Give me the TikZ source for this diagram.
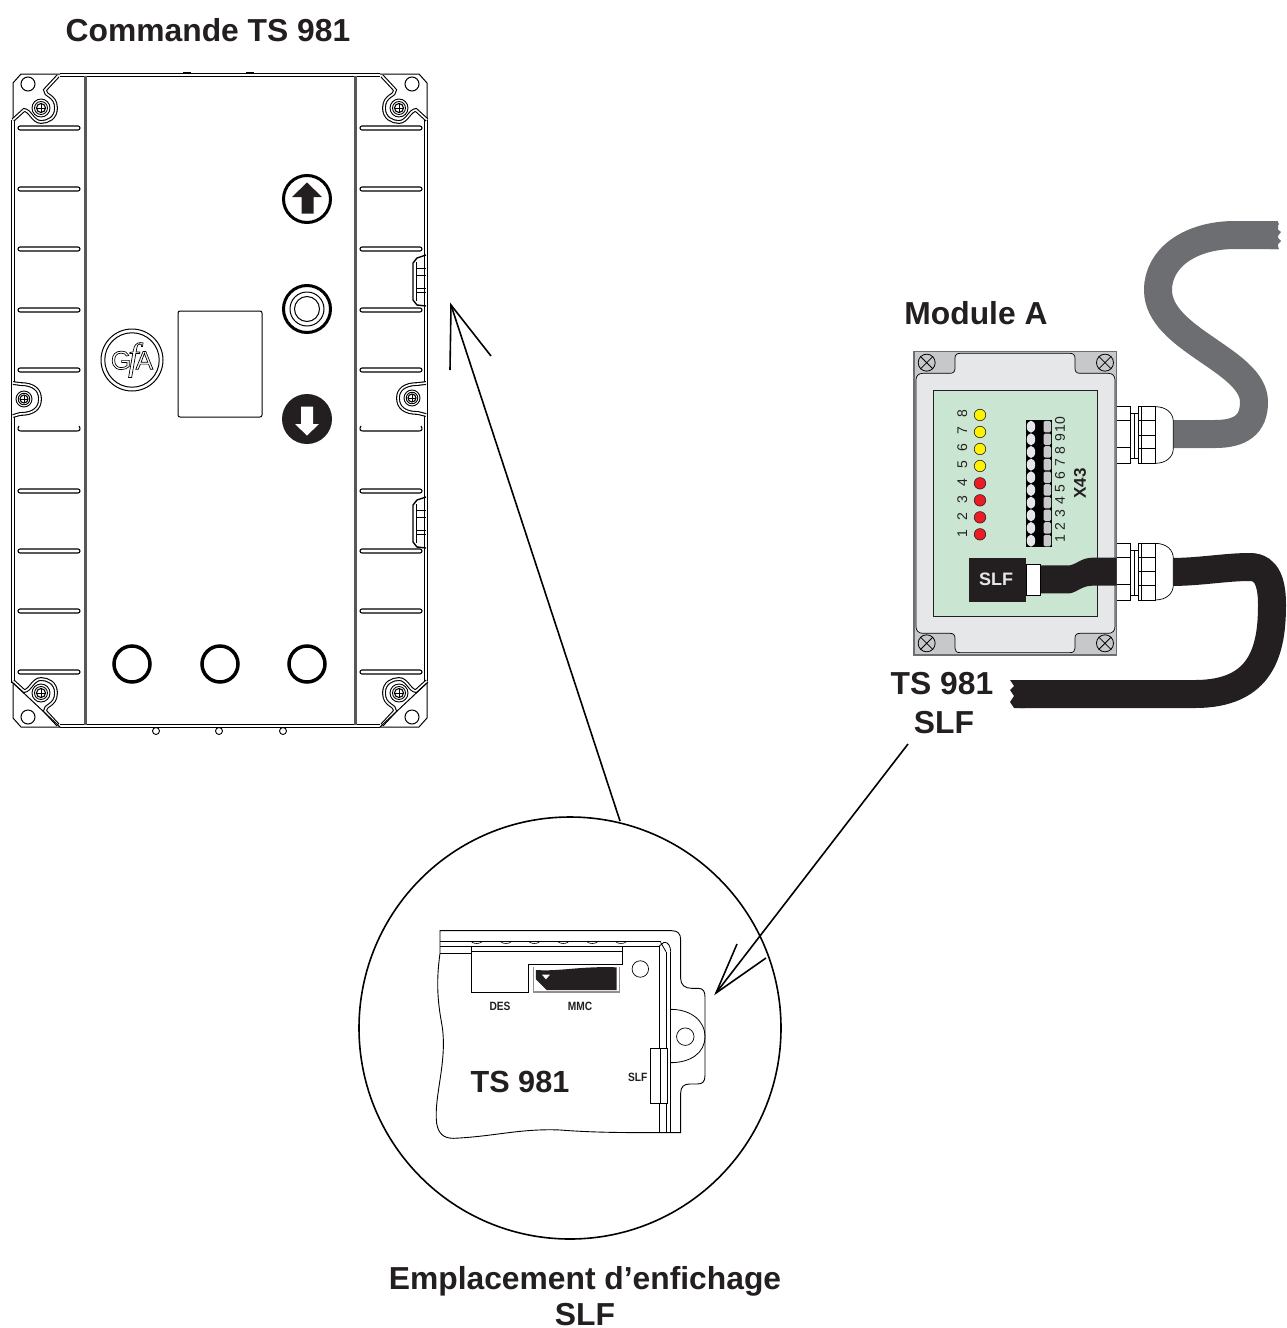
\documentclass[tikz,border=0pt]{standalone}
\usepackage{fontspec}
\usepackage{graphicx}
\usetikzlibrary{shapes.geometric}
\setmainfont{Liberation Sans}
\newfontfamily\logoserif{Liberation Serif}
\definecolor{lidgray}{HTML}{E6E7E9}
\definecolor{edgegray}{HTML}{C7C8CA}
\definecolor{pcbgreen}{HTML}{CBE5D3}
\definecolor{cablegray}{HTML}{6D6E71}
\definecolor{cableblack}{HTML}{231F20}
\definecolor{ledred}{HTML}{ED1C24}
\definecolor{ledyellow}{HTML}{FFF200}
\tikzset{
	title/.style={font=\bfseries\fontsize{31.8}{36}\selectfont,text=cableblack,inner sep=0pt},
	tiny label/.style={font=\bfseries\fontsize{12}{14}\selectfont,text=cableblack,inner sep=0pt},
	digit/.style={font=\fontsize{14}{15}\selectfont,text=cableblack,inner sep=0pt,rotate=90},
	shell/.style={draw=black,line width=1.1pt,double=white,double distance=1.6pt},
	rib/.style={draw=black,fill=white,line width=1.1pt,rounded corners=2pt},
	pointer/.style={draw=black,line width=1.6pt},
	cable/.style={line width=28pt},
}
% corner of the housing, seen top left
\newcommand{\housingscrew}[3]{
	\fill[white] (#1,#2) circle (#3);
	\draw[line width=0.9pt] (#1,#2) circle (#3) (#1,#2) circle (0.72*#3);
	\draw[line width=1.1pt] (#1,#2) circle (0.5*#3);
	\draw[line width=0.6pt] (#1-0.45*#3,#2) -- (#1+0.45*#3,#2) (#1,#2-0.45*#3) -- (#1,#2+0.45*#3);
}
\newcommand{\housingcorner}{
	\draw[line width=1pt] (60,74) -- (21,74) -- (13,83) -- (13,120);
	\draw[line width=1pt] (28,84) circle (7);
	\draw[shell] (58,76) -- (45,90) .. controls (44,96) and (56,95) .. (56,108) .. controls (56,118) and (48,122) .. (41,122) .. controls (33,122) and (30,110) .. (24,110) -- (13,120);
	\housingscrew{41}{108}{9}
}
% cable gland on the side of the box
\newcommand{\boxgland}[1]{
	\begin{scope}[yshift=#1]
		\draw[line width=0.7pt,fill=white] (795,230) .. controls (830,230) and (850,250) .. (850,275) -- (850,355) .. controls (850,380) and (830,400) .. (795,400) -- cycle;
		\draw[line width=0.7pt,fill=white] (680,230) rectangle (722,400);
		\draw[line width=0.7pt,fill=white] (722,250) rectangle (745,385);
		\draw[line width=0.7pt,fill=white] (745,230) rectangle (795,400);
		\draw[line width=0.7pt] (680,272) -- (722,272) (680,352) -- (722,352) (745,272) -- (795,272) (745,315) -- (795,315) (745,355) -- (795,355) (733,250) -- (733,385) (755,230) -- (755,400);
	\end{scope}
}
\begin{document}
\begin{tikzpicture}[x=1pt, y=-1pt]
	\useasboundingbox (0,0) rectangle (1286,1328);
	\fill[white] (0,0) rectangle (1286,1328);
	\node[title] (commande) at (208,30) {Commande TS 981};
	% housing
	\foreach \x in {156,219,283}{
		\draw[line width=0.9pt] (\x,731) circle (3.5);
	}
	\draw[shell] (60,75) -- (380,75);
	\draw[shell] (60,726) -- (380,726);
	\draw[shell] (13,120) -- (13,683);
	\draw[shell] (426,120) -- (426,683);
	\draw[color=cableblack!75, line width=3pt] (85,76) -- (85,725);
	\draw[color=cableblack!75, line width=3pt] (355,76) -- (355,725);
	\draw[line width=1.2pt] (183,73) -- (191,73) (246,73) -- (254,73);
	\housingcorner
	\begin{scope}[shift={(440,0)},xscale=-1]
		\housingcorner
	\end{scope}
	\begin{scope}[shift={(0,801)},yscale=-1]
		\housingcorner
		\draw[line width=1pt] (13,118) -- (60,74);
	\end{scope}
	\begin{scope}[shift={(440,801)},scale=-1]
		\housingcorner
		\draw[line width=1pt] (13,118) -- (60,74);
	\end{scope}
	\foreach \y in {128,189,249,310,370,491,551,611,672}{
		\draw[rib] (18,\y-2) rectangle (80,\y+2);
		\draw[rib] (360,\y-2) rectangle (422,\y+2);
	}
	\draw[line width=1.1pt] (19,426) .. controls (17,429) and (18,431) .. (21,431) -- (77,431) .. controls (80,431) and (81,429) .. (79,426);
	\draw[line width=1.1pt] (361,426) .. controls (359,429) and (360,431) .. (363,431) -- (419,431) .. controls (422,431) and (423,429) .. (421,426);
	% side screws and clips
	\draw[shell, fill=white] (13,383) -- (20,384) .. controls (34,384) and (40,390) .. (40,399) .. controls (40,408) and (34,414) .. (20,414) -- (13,416);
	\housingscrew{24}{399}{8}
	\draw[shell, fill=white] (426,383) -- (418,384) .. controls (404,384) and (398,390) .. (398,398) .. controls (398,407) and (404,413) .. (418,413) -- (426,415);
	\housingscrew{412}{398}{8}
	\foreach \dy in {0,242}{
		\begin{scope}[yshift=-\dy]
			\draw[line width=1.4pt] (426,255) -- (417,258) -- (413,263) -- (413,300) -- (417,305) -- (426,306);
			\draw[line width=1pt] (416,262) -- (416,301) (416,268) -- (426,268) (416,275) -- (426,275) (416,288) -- (426,288) (416,292) -- (426,292);
		\end{scope}
	}
	% front panel
	\node[draw, line width=1pt, rounded corners=2pt, minimum width=84pt, minimum height=106pt, inner sep=0pt] (display) at (220,364) {};
	\node[circle, draw, line width=1pt, minimum size=62pt, inner sep=0pt] (logo) at (132,360) {};
	\node[circle, draw, line width=1pt, minimum size=54pt, inner sep=0pt] (logoinner) at (132,360) {\special{pdf: code 1 Tr 0.7 w}\fontsize{26}{26}\selectfont G\kern-3pt{\logoserif\itshape\fontsize{38}{38}\selectfont f}\kern-3ptA\special{pdf: code 0 Tr}};
	\node[circle, draw, line width=3pt, minimum size=47pt, inner sep=0pt] (keyup) at (307,199) {};
	\fill[cableblack] (307,182.5) -- (322,197) -- (313.5,197) -- (313.5,213.5) -- (301.5,213.5) -- (301.5,197) -- (292,197) -- cycle;
	\node[circle, draw, line width=3pt, minimum size=47pt, inner sep=0pt] (keystop) at (307,309) {};
	\node[circle, draw, line width=1pt, minimum size=34pt, inner sep=0pt] (keystopa) at (307,309) {};
	\node[circle, draw, line width=1pt, minimum size=25pt, inner sep=0pt] (keystopb) at (307,309) {};
	\node[circle, fill=cableblack, minimum size=50pt, inner sep=0pt] (keydown) at (307,419) {};
	\fill[white] (307,435.5) -- (319,424) -- (313,424) -- (313,406.5) -- (301,406.5) -- (301,424) -- (295,424) -- cycle;
	\node[circle, draw, line width=3.5pt, minimum size=36pt, inner sep=0pt] (ledleft) at (132,664) {};
	\node[circle, draw, line width=3.5pt, minimum size=36pt, inner sep=0pt] (ledmid) at (220,664) {};
	\node[circle, draw, line width=3.5pt, minimum size=36pt, inner sep=0pt] (ledright) at (307,664) {};
	% cables outside of the box
	\draw[cablegray, cable] (1278,235) -- (1235,235) .. controls (1190,235) and (1158,258) .. (1158,290) .. controls (1158,340) and (1254,360) .. (1254,402) .. controls (1254,425) and (1240,434) .. (1215,434) -- (1170,434);
	\fill[cablegray] (1276,221) -- (1279,224) -- (1276,228) -- (1281,232) -- (1277,237) -- (1281,241) -- (1277,245) -- (1279,249) -- (1270,249) -- (1270,221) -- cycle;
	\draw[cableblack, cable] (1170,572) .. controls (1200,572) and (1225,567) .. (1250,567) .. controls (1268,567) and (1272,585) .. (1272,605) .. controls (1272,650) and (1262,694) .. (1195,694) -- (1020,694);
	\fill[cableblack] (1025,680) -- (1010,680) -- (1014,686) -- (1010,690) -- (1014,696) -- (1010,702) -- (1014,708) -- (1025,708) -- cycle;
	% module with x and y of the box
	\begin{scope}[shift={(890,330)}, x=0.3333pt, y=-0.3333pt]
		\boxgland{0pt}
		\boxgland{-136.67pt}
		\draw[fill=edgegray, draw=cablegray, line width=1.4pt] (72,65) rectangle (680,975);
		\fill[lidgray] (78,150) .. controls (78,138) and (86,130) .. (98,130) -- (180,130) .. controls (190,130) and (195,125) .. (195,115) -- (195,85) .. controls (195,75) and (200,70) .. (210,70) -- (540,70) .. controls (550,70) and (555,75) .. (555,85) -- (555,115) .. controls (555,125) and (560,130) .. (570,130) -- (655,130) .. controls (668,130) and (675,138) .. (675,150) -- (675,890) .. controls (675,902) and (668,910) .. (655,910) -- (570,910) .. controls (560,910) and (555,915) .. (555,925) -- (555,955) .. controls (555,964) and (550,968) .. (540,968) -- (210,968) .. controls (200,968) and (195,964) .. (195,955) -- (195,925) .. controls (195,915) and (190,910) .. (180,910) -- (98,910) .. controls (86,910) and (78,902) .. (78,890) -- cycle;
		\draw[line width=0.7pt] (78,150) .. controls (78,138) and (86,130) .. (98,130) -- (180,130) .. controls (190,130) and (195,125) .. (195,115) -- (195,85) .. controls (195,75) and (200,70) .. (210,70) -- (540,70) .. controls (550,70) and (555,75) .. (555,85) -- (555,115) .. controls (555,125) and (560,130) .. (570,130) -- (655,130) .. controls (668,130) and (675,138) .. (675,150) -- (675,890) .. controls (675,902) and (668,910) .. (655,910) -- (570,910) .. controls (560,910) and (555,915) .. (555,925) -- (555,955) .. controls (555,964) and (550,968) .. (540,968) -- (210,968) .. controls (200,968) and (195,964) .. (195,955) -- (195,925) .. controls (195,915) and (190,910) .. (180,910) -- (98,910) .. controls (86,910) and (78,902) .. (78,890) -- cycle;
		\foreach \sx/\sy [count=\n] in {110/98,645/98,110/940,645/940}{
			\node[circle, draw, line width=0.8pt, fill=edgegray, minimum size=17pt, inner sep=0pt] (boxscrew\n) at (\sx,\sy) {};
			\draw[line width=0.8pt] (boxscrew\n.north west) -- (boxscrew\n.south east) (boxscrew\n.north east) -- (boxscrew\n.south west);
		}
		\draw[draw=cableblack, fill=pcbgreen, line width=0.7pt] (130,180) rectangle (622,860);
		% LEDs and their numbers
		\foreach \i/\ly/\lc in {1/613/ledred,2/562/ledred,3/511/ledred,4/460/ledred,5/408/ledyellow,6/357/ledyellow,7/306/ledyellow,8/255/ledyellow}{
			\node[circle, draw=cableblack, fill=\lc, line width=0.6pt, minimum size=11.5pt, inner sep=0pt] (led\i) at (270,\ly) {};
			\node[digit] (lednum\i) at (217,\ly-3) {\i};
		}
		% terminal strip X43
		\fill[black] (408,270) rectangle (487,650);
		\foreach \i in {1,...,10}{
			\pgfmathsetmacro{\ty}{632-(\i-1)*38}
			\node[ellipse, fill=lidgray, draw=none, minimum width=8.5pt, minimum height=12pt, inner sep=0pt] (termwhite\i) at (423,\ty) {};
			\node[rounded corners=1.5pt, fill=edgegray, minimum width=7.5pt, minimum height=11.5pt, inner sep=0pt] (termgray\i) at (472,\ty) {};
			\node[digit] (termnum\i) at (510,\ty-5) {\i};
		}
		\node[font=\bfseries\fontsize{17}{18}\selectfont, text=cableblack, rotate=90, inner sep=0pt] (xfortythree) at (570,460) {X43};
		% inner cable and plug
		\fill[cableblack] (450,706) -- (540,706) .. controls (565,700) and (575,683) .. (610,683) -- (680,683) -- (680,767) -- (610,767) .. controls (575,767) and (565,785) .. (540,790) -- (450,790) -- cycle;
		\draw[line width=0.5pt, fill=white] (408,703) rectangle (450,795);
		\node[fill=cableblack, text=lidgray, font=\bfseries\fontsize{18}{18}\selectfont, minimum width=56.7pt, minimum height=44pt, inner sep=0pt] (slfplug) at (323,749) {\kern-3pt SLF};
	\end{scope}
	\node[title] (modulea) at (976,313) {Module A};
	\node[title] (tsmodule) at (942,684) {TS 981};
	\node[title] (slfmodule) at (944,723) {SLF};
	% magnified detail
	\node[circle, draw, line width=1.6pt, minimum size=422pt, inner sep=0pt] (detail) at (570,1028) {};
	\begin{scope}[shift={(420,910)}, x=0.3333pt, y=-0.3333pt]
		\draw[line width=0.9pt] (60,130) -- (60,62) -- (755,62) .. controls (775,62) and (782,72) .. (782,90) -- (782,205) .. controls (782,225) and (795,235) .. (815,235) -- (835,235) .. controls (850,235) and (855,245) .. (855,260) -- (855,497) .. controls (855,515) and (848,522) .. (832,522) -- (810,522) .. controls (792,522) and (782,530) .. (782,550) -- (782,668) -- (718,668);
		\draw[line width=0.9pt] (60,130) .. controls (52,190) and (48,250) .. (65,340) .. controls (85,450) and (40,560) .. (50,640) .. controls (55,670) and (70,685) .. (100,685) .. controls (220,680) and (300,655) .. (420,660) .. controls (520,668) and (620,668) .. (718,668);
		\draw[line width=0.8pt] (60,95) -- (722,95) (60,108) -- (155,108) (608,108) -- (718,108) (155,125) -- (608,125) (60,130) -- (155,130);
		\foreach \x in {170,258,343,430,517,603}{
			\draw[line width=0.6pt] (\x-15,96) .. controls (\x-8,102) and (\x+8,102) .. (\x+15,96);
		}
		\draw[line width=0.8pt] (155,108) -- (155,248) -- (325,248) -- (325,162) -- (608,162) -- (608,108) -- cycle;
		\draw[draw=cableblack!50, line width=1.2pt] (340,172) -- (340,246) -- (598,246) -- (598,172);
		\fill[cableblack] (348,180) .. controls (420,185) and (480,168) .. (590,172) -- (590,240) -- (380,240) -- (348,208) -- cycle;
		\fill[white] (366,194) -- (390,194) -- (378,208) -- cycle;
		\node[circle, draw, line width=0.7pt, minimum size=16.5pt, inner sep=0pt] (holetop) at (661,177) {};
		\node[circle, draw, line width=0.7pt, minimum size=17.5pt, inner sep=0pt] (holelug) at (796,380) {};
		\draw[line width=0.8pt] (718,108) -- (718,668) (738,125) -- (738,668) (752,125) -- (752,668);
		\draw[line width=0.8pt] (718,108) -- (732,97) .. controls (745,95) and (752,110) .. (752,125) (722,97) -- (738,125);
		\draw[line width=0.8pt] (752,298) .. controls (810,298) and (855,330) .. (855,380) .. controls (855,430) and (810,458) .. (752,458);
		\draw[line width=0.8pt, fill=white] (690,415) rectangle (742,580);
		\draw[line width=0.8pt] (720,415) -- (720,580);
		\node[tiny label] (desname) at (240,288) {\scalebox{0.85}[1]{DES}};
		\node[tiny label] (mmcname) at (480,288) {\scalebox{0.85}[1]{MMC}};
		\node[tiny label] (slfname) at (653,503) {\scalebox{0.85}[1]{SLF}};
		\node[title, font=\bfseries\fontsize{30.6}{36}\selectfont] (tsdetail) at (300,515) {TS 981};
	\end{scope}
	\node[title] (emplacement) at (585,1281) {Emplacement d’enfichage};
	\node[title] (slfdetail) at (585,1315) {SLF};
	% pointers
	\coordinate (tipone) at (451,305);
	\coordinate (tiponea) at (450,370);
	\coordinate (tiponeb) at (491,356);
	\coordinate (tiptwo) at (716,993);
	\coordinate (tiptwoa) at (737,944);
	\coordinate (tiptwob) at (766,958);
	\coordinate (startone) at (620,821);
	\coordinate (starttwo) at (908,744);
	\draw[pointer] (startone) -- (tipone);
	\draw[pointer] (tiponea) -- (tipone) -- (tiponeb);
	\draw[pointer] (starttwo) -- (tiptwo);
	\draw[pointer] (tiptwoa) -- (tiptwo) -- (tiptwob);
\end{tikzpicture}
\end{document}
